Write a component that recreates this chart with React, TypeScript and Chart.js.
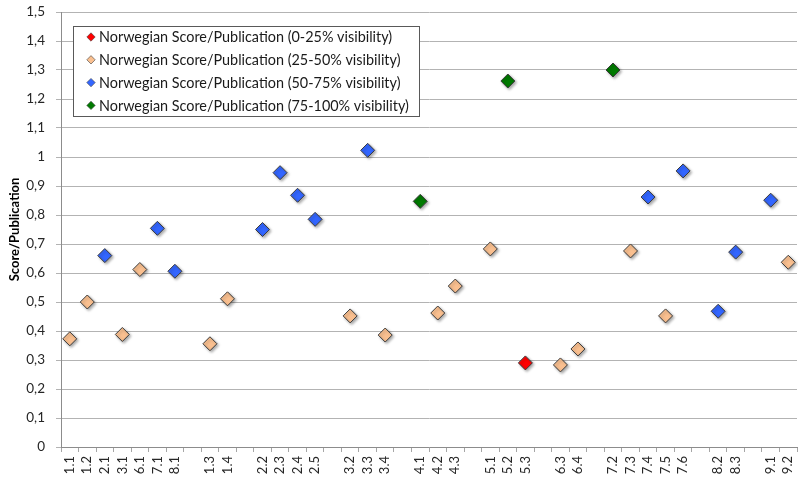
import { useEffect, useRef } from "react";
import { Chart, registerables } from "chart.js";

Chart.register(...registerables);

// Category slots along the x axis; empty strings separate the groups.
const categories = [
  "1.1", "1.2", "2.1", "3.1", "6.1", "7.1", "8.1", "",
  "1.3", "1.4", "",
  "2.2", "2.3", "2.4", "2.5", "",
  "3.2", "3.3", "3.4", "",
  "4.1", "4.2", "4.3", "",
  "5.1", "5.2", "5.3", "",
  "6.3", "6.4", "",
  "7.2", "7.3", "7.4", "7.5", "7.6", "",
  "8.2", "8.3", "",
  "9.1", "9.2",
];

const yTicks = [0, 0.1, 0.2, 0.3, 0.4, 0.5, 0.6, 0.7, 0.8, 0.9, 1, 1.1, 1.2, 1.3, 1.4, 1.5];

const lowLabels = ["5.3"];
const lowValues = [0.29];

const lowMidLabels = ["1.1", "1.2", "3.1", "6.1", "1.3", "1.4", "3.2", "3.4", "4.2", "4.3", "5.1", "6.3", "6.4", "7.3", "7.5", "9.2"];
const lowMidValues = [0.373, 0.5, 0.388, 0.612, 0.356, 0.511, 0.452, 0.386, 0.462, 0.555, 0.683, 0.283, 0.338, 0.676, 0.452, 0.637];

const highMidLabels = ["2.1", "7.1", "8.1", "2.2", "2.3", "2.4", "2.5", "3.3", "7.4", "7.6", "8.2", "8.3", "9.1"];
const highMidValues = [0.66, 0.754, 0.606, 0.75, 0.946, 0.868, 0.785, 1.023, 0.862, 0.952, 0.468, 0.672, 0.851];

const highLabels = ["4.1", "5.2", "7.2"];
const highValues = [0.847, 1.262, 1.3];

const seriesNames = [
  "Norwegian Score/Publication (0-25% visibility)",
  "Norwegian Score/Publication (25-50% visibility)",
  "Norwegian Score/Publication (50-75% visibility)",
  "Norwegian Score/Publication (75-100% visibility)",
];
const seriesColors = ["#ff0000", "#fac090", "#3366ff", "#007a00"];

const FONT = "Lato, 'Open Sans', sans-serif";

const toPoints = (labels: string[], values: number[]) =>
  labels.map((x, i) => ({ x, y: values[i] }));

const fmt = (v: number) =>
  Number.isInteger(v) ? String(v) : v.toFixed(1).replace(".", ",");

// Soft drop shadow under the diamond markers.
const markerShadow = {
  id: "markerShadow",
  beforeDatasetsDraw(chart: any) {
    const ctx = chart.ctx;
    ctx.save();
    ctx.shadowColor = "rgba(0,0,0,0.35)";
    ctx.shadowBlur = 3;
    ctx.shadowOffsetX = 1.5;
    ctx.shadowOffsetY = 1.5;
  },
  afterDatasetsDraw(chart: any) {
    chart.ctx.restore();
  },
};

// Boxed legend sitting inside the plot area, top-left.
const boxedLegend = {
  id: "boxedLegend",
  afterDraw(chart: any) {
    const ctx = chart.ctx;
    const { left, top } = chart.chartArea;
    const x0 = left + 12;
    const y0 = top + 14;
    const w = 346;
    const h = 90;
    ctx.save();
    ctx.fillStyle = "#ffffff";
    ctx.fillRect(x0, y0, w, h);
    ctx.strokeStyle = "#595959";
    ctx.lineWidth = 1;
    ctx.strokeRect(x0 + 0.5, y0 + 0.5, w, h);
    ctx.font = `14.4px ${FONT}`;
    ctx.textBaseline = "middle";
    seriesNames.forEach((name, i) => {
      const cy = y0 + 11 + i * 22.8;
      const cx = x0 + 18;
      const r = 4.2;
      ctx.beginPath();
      ctx.moveTo(cx, cy - r);
      ctx.lineTo(cx + r, cy);
      ctx.lineTo(cx, cy + r);
      ctx.lineTo(cx - r, cy);
      ctx.closePath();
      ctx.fillStyle = seriesColors[i];
      ctx.fill();
      ctx.strokeStyle = "#404040";
      ctx.lineWidth = 0.6;
      ctx.stroke();
      ctx.fillStyle = "#1a1a1a";
      ctx.fillText(name, x0 + 26, cy + 0.5);
    });
    ctx.restore();
  },
};

export default function App() {
  const canvasRef = useRef<HTMLCanvasElement | null>(null);

  useEffect(() => {
    document.body.style.margin = "0";
    const canvas = canvasRef.current;
    if (!canvas) return;

    const makeSet = (i: number, labels: string[], values: number[]) => ({
      label: seriesNames[i],
      data: toPoints(labels, values),
      showLine: false,
      pointStyle: "rectRot" as const,
      pointRadius: 7,
      pointHoverRadius: 7,
      pointBackgroundColor: seriesColors[i],
      pointBorderColor: "#3a3a3a",
      pointBorderWidth: 1,
      backgroundColor: seriesColors[i],
      borderColor: "#3a3a3a",
    });

    const chart = new Chart(canvas, {
      type: "line",
      data: {
        labels: categories,
        datasets: [
          makeSet(0, lowLabels, lowValues),
          makeSet(1, lowMidLabels, lowMidValues),
          makeSet(2, highMidLabels, highMidValues),
          makeSet(3, highLabels, highValues),
        ],
      },
      options: {
        animation: false,
        responsive: true,
        maintainAspectRatio: false,
        layout: { autoPadding: false, padding: { top: 12, right: 1, left: 7, bottom: 0 } },
        plugins: {
          legend: { display: false },
          tooltip: { enabled: false },
        },
        scales: {
          x: {
            type: "category",
            offset: true,
            grid: {
              offset: true,
              drawOnChartArea: false,
              drawTicks: true,
              tickLength: 5,
              color: "#a6a6a6",
            },
            border: { color: "#8c8c8c" },
            ticks: {
              autoSkip: false,
              maxRotation: 90,
              minRotation: 90,
              padding: 4,
              color: "#262626",
              font: { family: FONT, size: 13 },
            },
            afterFit(scale: any) {
              scale.height = 36;
              scale.paddingLeft = 0;
              scale.paddingRight = 0;
            },
          },
          y: {
            min: 0,
            max: 1.5,
            afterBuildTicks(scale: any) {
              scale.ticks = yTicks.map((v) => ({ value: v }));
            },
            grid: {
              color: "#b3b3b3",
              tickLength: 5,
            },
            border: { color: "#8c8c8c" },
            ticks: {
              padding: 11,
              color: "#262626",
              font: { family: FONT, size: 13.5 },
              callback: (v: any) => fmt(Number(v)),
            },
            title: {
              display: true,
              text: "Score/Publication",
              color: "#000000",
              font: { family: FONT, size: 13, weight: "bold" },
              padding: { top: 0, bottom: 0 },
            },
            afterFit(scale: any) {
              scale.width = 54;
              scale.paddingTop = 0;
              scale.paddingBottom = 0;
            },
          },
        },
      },
      plugins: [markerShadow, boxedLegend],
    });

    return () => chart.destroy();
  }, []);

  return (
    <div style={{ position: "relative", width: 798, height: 483 }}>
      <canvas ref={canvasRef} />
    </div>
  );
}
